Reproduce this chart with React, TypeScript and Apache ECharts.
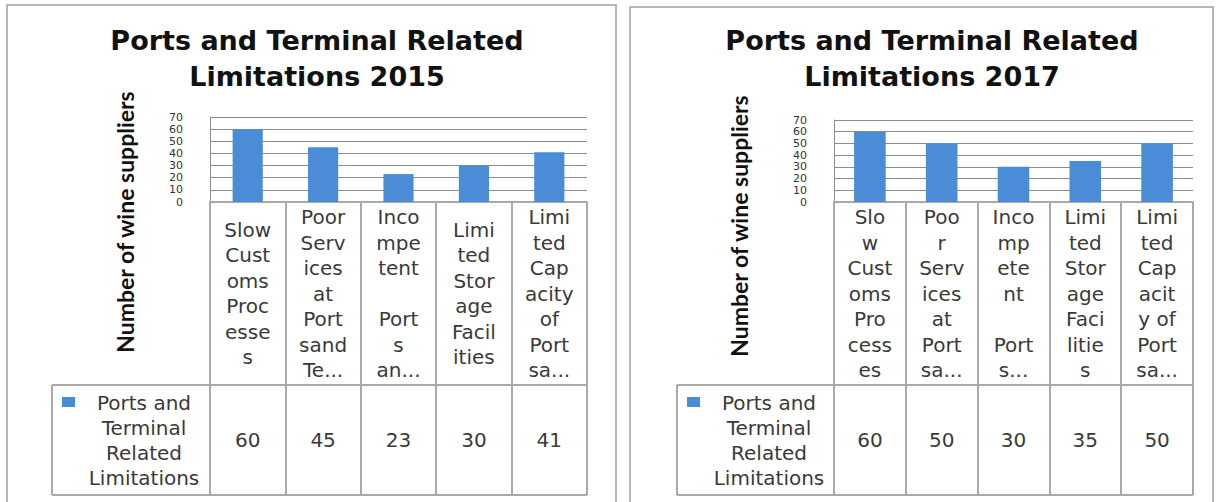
import React, { useEffect, useRef } from "react";
import * as echarts from "echarts";

const categories = [
  "Slow Customs Processes",
  "Poor Services at Ports and Terminals",
  "Incompetent Ports and Terminals",
  "Limited Storage Facilities",
  "Limited Capacity of Ports and Terminals",
];
const labels2015 = [
  "Slow\nCust\noms\nProc\nesse\ns",
  "Poor\nServ\nices\nat\nPort\nsand\nTe...",
  "Inco\nmpe\ntent\n\nPort\ns\nan...",
  "Limi\nted\nStor\nage\nFacil\nities",
  "Limi\nted\nCap\nacity\nof\nPort\nsa...",
];
const labels2017 = [
  "Slo\nw\nCust\noms\nPro\ncess\nes",
  "Poo\nr\nServ\nices\nat\nPort\nsa...",
  "Inco\nmp\nete\nnt\n\nPort\ns...",
  "Limi\nted\nStor\nage\nFaci\nlitie\ns",
  "Limi\nted\nCap\nacit\ny of\nPort\nsa...",
];
const values2015 = [60, 45, 23, 30, 41];
const values2017 = [60, 50, 30, 35, 50];
const seriesName = "Ports and Terminal Related Limitations";
const legendLines = "Ports and\nTerminal\nRelated\nLimitations";
const title2015 = "Ports and Terminal Related\nLimitations 2015";
const title2017 = "Ports and Terminal Related\nLimitations 2017";
const yTitle = "Number of wine suppliers";

const BAR = "#4a8cd6";
const GRID_C = "#8c8c8c";
const TABLE_C = "#a9a9a9";
const TXT = "#3a3a3a";
const FONT = "DejaVu Sans";

export default function App() {
  const ref = useRef<HTMLDivElement>(null);
  useEffect(() => {
    document.body.style.margin = "0";
    const chart = echarts.init(ref.current!, null, { renderer: "svg" });

    const panels = [
      { left: 210, right: 587, top: 117, bottom: 202, legL: 52, titleX: 312, yTitleX: 125, yTitleY: 222, labels: labels2015, values: values2015, title: title2015, barWidth: "40%", frame: [7, 5, 609, 520] },
      { left: 834, right: 1193, top: 120, bottom: 202, legL: 677, titleX: 927, yTitleX: 739, yTitleY: 226, labels: labels2017, values: values2017, title: title2017, barWidth: "44%", frame: [630, 7, 583, 520] },
    ];
    const headerBottom = 385;
    const tableBottom = 495;

    const grids: any[] = [];
    const xAxes: any[] = [];
    const yAxes: any[] = [];
    const series: any[] = [];
    const titles: any[] = [];
    const graphics: any[] = [];

    panels.forEach((p, i) => {
      grids.push({ left: p.left, top: p.top, width: p.right - p.left, height: p.bottom - p.top, containLabel: false });
      const lbls = p.labels;
      xAxes.push({
        type: "category",
        gridIndex: i,
        data: categories,
        position: "bottom",
        axisLine: { show: true, lineStyle: { color: TABLE_C, width: 2 } },
        axisTick: { show: true, length: tableBottom - p.bottom, lineStyle: { color: TABLE_C, width: 2 } },
        axisLabel: {
          interval: 0,
          formatter: (_v: string, idx: number) => lbls[idx],
          verticalAlign: "middle",
          margin: (p.bottom + headerBottom) / 2 - p.bottom,
          lineHeight: 25.5,
          fontSize: 20,
          fontFamily: FONT,
          color: TXT,
        },
      });
      xAxes.push({
        type: "category",
        gridIndex: i,
        data: p.values.map(String),
        position: "bottom",
        axisLine: { show: false },
        axisTick: { show: false },
        axisLabel: {
          interval: 0,
          verticalAlign: "middle",
          margin: (headerBottom + tableBottom) / 2 - p.bottom,
          fontSize: 20,
          fontFamily: FONT,
          color: TXT,
        },
      });
      yAxes.push({
        type: "value",
        gridIndex: i,
        min: 0,
        max: 70,
        interval: 10,
        axisLine: { show: true, lineStyle: { color: GRID_C, width: 1 } },
        axisTick: { show: false },
        splitLine: { show: true, lineStyle: { color: GRID_C, width: 1 } },
        axisLabel: {
          fontSize: 11,
          lineHeight: 11,
          fontFamily: FONT,
          color: "#333",
          margin: 27,
          showMinLabel: true,
          showMaxLabel: true,
          hideOverlap: false,
        },
      });
      series.push({
        type: "bar",
        name: seriesName,
        xAxisIndex: i * 2,
        yAxisIndex: i,
        data: p.values,
        barWidth: p.barWidth,
        itemStyle: { color: BAR },
      });
      titles.push({
        text: p.title,
        left: p.titleX,
        textAlign: "center",
        top: 17,
        textStyle: { fontSize: 27, fontWeight: "bold", fontFamily: FONT, lineHeight: 36, color: "#111" },
      });
      const [fx, fy, fw, fh] = p.frame;
      graphics.push({ type: "rect", shape: { x: fx, y: fy, width: fw, height: fh }, style: { fill: "none", stroke: "#a0a0a0", lineWidth: 1.5 }, silent: true });
      graphics.push({ type: "line", shape: { x1: p.legL, y1: headerBottom, x2: p.right, y2: headerBottom }, style: { stroke: TABLE_C, lineWidth: 2 } });
      graphics.push({ type: "line", shape: { x1: p.legL, y1: tableBottom, x2: p.right, y2: tableBottom }, style: { stroke: TABLE_C, lineWidth: 2 } });
      graphics.push({ type: "line", shape: { x1: p.legL, y1: headerBottom, x2: p.legL, y2: tableBottom }, style: { stroke: TABLE_C, lineWidth: 2 } });
      graphics.push({ type: "rect", shape: { x: p.legL + 10, y: 397, width: 13, height: 10 }, style: { fill: BAR } });
      graphics.push({
        type: "text",
        x: p.legL + 92,
        y: (headerBottom + tableBottom) / 2,
        style: { text: legendLines, fontSize: 20, fontFamily: FONT, fill: TXT, align: "center", verticalAlign: "middle", lineHeight: 25 },
      });
      graphics.push({
        type: "text",
        x: p.yTitleX,
        y: p.yTitleY,
        rotation: Math.PI / 2,
        style: { text: yTitle, fontSize: 23, fontWeight: "bold", fontFamily: "Lato", fill: "#111", align: "center", verticalAlign: "middle" },
      });
    });

    chart.setOption({
      animation: false,
      backgroundColor: "#fff",
      title: titles,
      grid: grids,
      xAxis: xAxes,
      yAxis: yAxes,
      series,
      graphic: graphics,
    });
    return () => chart.dispose();
  }, []);
  return <div ref={ref} style={{ position: "absolute", left: 0, top: 0, width: 1223, height: 502 }} />;
}
